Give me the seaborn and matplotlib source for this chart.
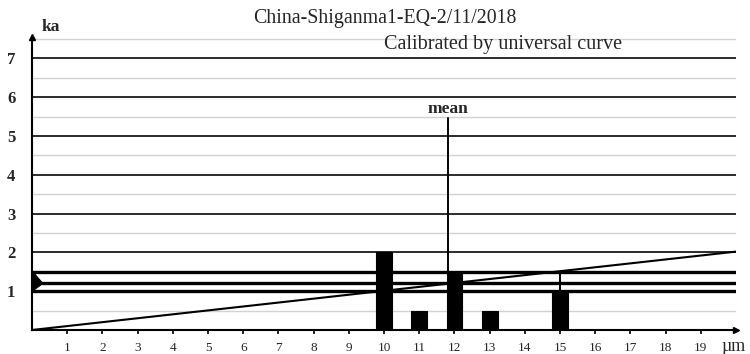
import numpy as np
import pandas as pd
import matplotlib
matplotlib.use("Agg")
import matplotlib.pyplot as plt
import seaborn as sns

# data
grain_size = [10, 11, 12, 13, 15]          # um
bar_height = [2.0, 0.5, 1.5, 0.5, 1.0]     # ka
curve_x = [0, 20]                          # universal calibration curve
curve_y = [0, 2.02]
mean_size = 11.82
mean_top = 5.45
age_mean = 1.2
age_low = 1.0
age_high = 1.5
upper_size = 15
x_ticks = list(range(1, 20))
y_ticks = list(range(1, 8))

sns.set_style("white")
plt.rcParams["font.family"] = ["Liberation Serif", "DejaVu Serif"]

fig = plt.figure(figsize=(7.5, 3.54), dpi=100)
ax = fig.add_axes([0.0427, 0.0678, 0.9387, 0.8277])

# grid lines
for v in np.arange(0.5, 8, 1.0):
    ax.axhline(v, color="#d2d2d2", lw=1.0, zorder=0)
for v in y_ticks:
    ax.axhline(v, color="#1a1a1a", lw=1.3, zorder=1)

# age band lines
for v in [age_low, age_mean, age_high]:
    ax.axhline(v, color="black", lw=2.4, zorder=2)

df = pd.DataFrame({"size": grain_size, "ka": bar_height})
sns.barplot(data=df, x="size", y="ka", native_scale=True, width=0.45,
            color="black", saturation=1, edgecolor="black", linewidth=0.8,
            ax=ax, zorder=3)

sns.lineplot(x=curve_x, y=curve_y, color="black", lw=1.5, ax=ax, zorder=4)

# mean line and upper bound line
ax.plot([mean_size, mean_size], [age_high, mean_top], color="black", lw=1.4, zorder=4)
ax.plot([upper_size, upper_size], [age_low, age_high], color="black", lw=1.4, zorder=4)
ax.text(mean_size, mean_top + 0.05, "mean", ha="center", va="bottom", fontsize=12.5, fontweight="bold")

# marker on the age axis
ax.fill([0, 0.3, 0], [age_low, age_mean, age_high + 0.02], color="black", zorder=5, clip_on=False)

ax.set_xlim(0, 20)
ax.set_ylim(0, 7.55)
ax.set_xticks(x_ticks)
ax.set_xticklabels([str(t) for t in x_ticks], fontsize=9.5)
ax.set_yticks(y_ticks)
ax.set_yticklabels([str(t) for t in y_ticks], fontsize=12, fontweight="bold")
ax.tick_params(axis="x", length=3, width=1.2, color="black", pad=6, direction="out", bottom=True)
ax.tick_params(axis="y", length=0, pad=12)
ax.set_xlabel("")
ax.set_ylabel("")

for s in ["top", "right"]:
    ax.spines[s].set_visible(False)
for s in ["left", "bottom"]:
    ax.spines[s].set_color("black")
    ax.spines[s].set_linewidth(1.5)

# axis arrows
ax.plot(0, 1, marker="^", color="black", ms=5, transform=ax.transAxes, clip_on=False, zorder=6)
ax.plot(1, 0, marker=">", color="black", ms=5, transform=ax.transAxes, clip_on=False, zorder=6)

fig.text(0.513, 0.947, "China-Shiganma1-EQ-2/11/2018", ha="center", va="center", fontsize=14.3)
fig.text(0.83, 0.873, "Calibrated by universal curve", ha="right", va="center", fontsize=14.5)
fig.text(0.055, 0.925, "ka", ha="left", va="center", fontsize=12.5, fontweight="bold")
fig.text(0.962, 0.022, "\u00b5m", ha="left", va="center", fontsize=13)

fig.savefig("out.png", dpi=100)
